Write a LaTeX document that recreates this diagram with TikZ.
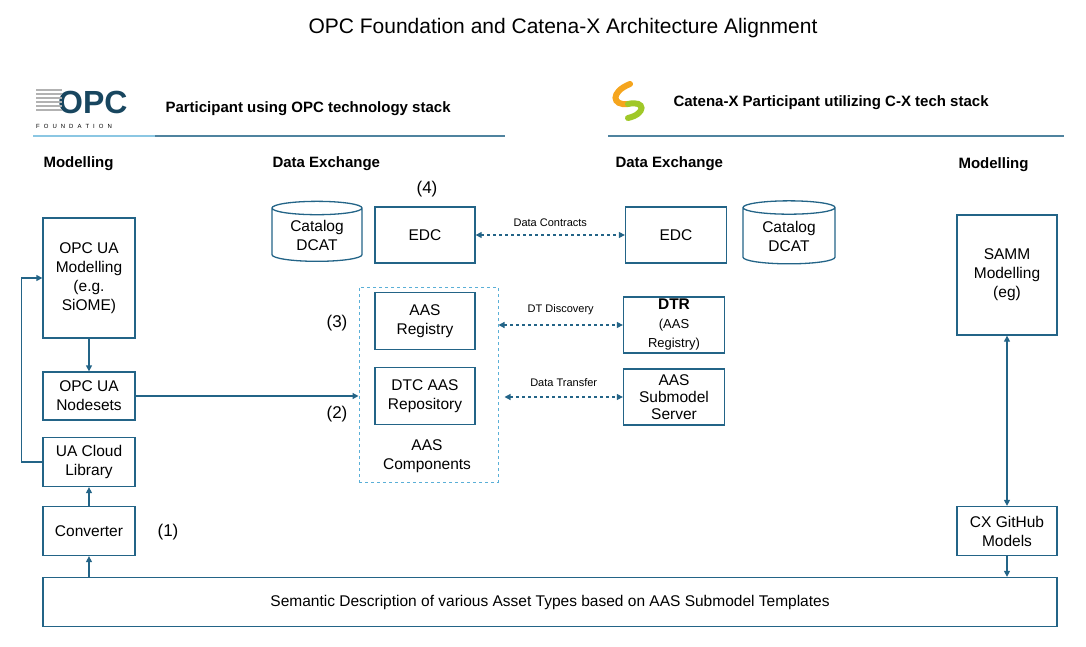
\documentclass[tikz,border=0pt]{standalone}
\usepackage{fontspec}
\setmainfont{Liberation Sans}
\usetikzlibrary{shapes.geometric,arrows.meta}
\definecolor{bl}{RGB}{35,100,135}
\definecolor{lb}{RGB}{90,175,215}
\definecolor{cxo}{RGB}{245,165,30}
\definecolor{cxg}{RGB}{160,200,40}
\begin{document}
\begin{tikzpicture}[x=1pt,y=-1pt,
  box/.style={draw=bl,line width=1.3pt,align=center,inner sep=0pt,font=\fontsize{15.5}{19}\selectfont},
  db/.style={draw=bl,line width=1.3pt,cylinder,shape border rotate=90,aspect=0.25,align=center,font=\fontsize{15.5}{19}\selectfont,minimum width=90pt,minimum height=60pt,inner sep=0pt},
  arr/.style={draw=bl,line width=1.3pt,-{Triangle[length=6pt,width=6pt]}},
  darr/.style={draw=bl,line width=1.2pt,dashed,{Triangle[length=6pt,width=6pt]}-{Triangle[length=6pt,width=6pt]}},
  head/.style={font=\bfseries\fontsize{15}{18}\selectfont,anchor=west},
  lab/.style={font=\fontsize{11}{13}\selectfont},
  num/.style={font=\fontsize{17}{20}\selectfont}]
\useasboundingbox (0,0) rectangle (1086,647);
\node[font=\fontsize{21}{25}\selectfont] (title) at (563,28) {OPC Foundation and Catena-X Architecture Alignment};
% OPC logo
\node[font=\bfseries\fontsize{32}{32}\selectfont,text=bl!70!black,anchor=west,inner sep=0pt] (opc) at (58,102) {OPC};
\foreach \i in {0,...,5}{\draw[gray!60,line width=1.2pt] (36,90+\i*4) -- (62,90+\i*4);}
\node[font=\fontsize{6}{7}\selectfont,anchor=west,inner sep=0pt] (fnd) at (36,126) {F\,\,\,\,O\,\,\,\,U\,\,\,\,N\,\,\,\,D\,\,\,\,A\,\,\,\,T\,\,\,\,I\,\,\,\,O\,\,\,\,N};
\node[head] (h1) at (162,109) {Participant using OPC technology stack};
\draw[lb!70,line width=1.5pt] (33,136) -- (155,136);
\draw[bl!80,line width=1.5pt] (155,136) -- (505,136);
% CX logo
\draw[cxo,line width=6pt,line cap=round] (630,84) .. controls (610,92) and (612,106) .. (628,104);
\draw[cxg,line width=6pt,line cap=round] (628,104) .. controls (646,100) and (646,114) .. (628,118);
\node[head] (h2) at (670,103) {Catena-X Participant utilizing C-X tech stack};
\draw[bl!80,line width=1.5pt] (608,136) -- (1064,136);
\node[head] (m1) at (40,164) {Modelling};
\node[head] (d1) at (269,164) {Data Exchange};
\node[head] (d2) at (612,164) {Data Exchange};
\node[head] (m2) at (955,165) {Modelling};
% left column
\node[box,minimum width=92pt,minimum height=120pt] (uam) at (89,278) {OPC UA\\Modelling\\(e.g.\\SiOME)};
\node[box,minimum width=92pt,minimum height=48pt] (ns) at (89,396) {OPC UA\\Nodesets};
\node[box,minimum width=92pt,minimum height=49pt] (ucl) at (89,462) {UA Cloud\\Library};
\node[box,minimum width=92pt,minimum height=49pt] (conv) at (89,531) {Converter};
\node[num] (n1) at (168,532) {(1)};
\node[box,minimum width=1014pt,minimum height=49pt] (sem) at (550,602) {Semantic Description of various Asset Types based on AAS Submodel Templates};
% data exchange left
\node[db] (cat1) at (317,235) {Catalog\\DCAT};
\node[box,minimum width=100pt,minimum height=56pt] (edc1) at (425,235) {EDC};
\node[num] (n4) at (427,189) {(4)};
\node[draw=lb,dashed,line width=1pt,minimum width=139pt,minimum height=195pt,inner sep=0pt] (aasc) at (428.5,384.5) {};
\node[box,minimum width=100pt,minimum height=57pt] (reg) at (425,321) {AAS\\Registry};
\node[box,minimum width=100pt,minimum height=57pt] (rep) at (425,396) {DTC AAS\\Repository};
\node[align=center,font=\fontsize{15.5}{19}\selectfont] (aaslab) at (427,456) {AAS\\Components};
\node[num] (n3) at (337,323) {(3)};
\node[num] (n2) at (337,414) {(2)};
% right data exchange
\node[box,minimum width=101pt,minimum height=56pt] (edc2) at (676,235) {EDC};
\node[db,minimum width=92pt,minimum height=63pt] (cat2) at (789,236) {Catalog\\DCAT};
\node[box,minimum width=101pt,minimum height=56pt] (dtr) at (674,325) {\textbf{DTR}\\{\fontsize{13}{15}\selectfont (AAS}\\{\fontsize{13}{15}\selectfont Registry)}};
\node[box,minimum width=101pt,minimum height=56pt,font=\fontsize{15.5}{17}\selectfont] (sms) at (674,397) {AAS\\Submodel\\Server};
\node[box,minimum width=100pt,minimum height=120pt] (samm) at (1007,275) {SAMM\\Modelling\\(eg)};
\node[box,minimum width=100pt,minimum height=49pt] (gh) at (1007,531) {CX GitHub\\Models};
% connectors
\draw[darr] (edc1) -- node[lab,above=4pt] {Data Contracts} (edc2);
\draw[darr] (aasc.east |- dtr) -- node[lab,above=6pt] {DT Discovery} (dtr);
\draw[darr] ([xshift=6pt]aasc.east |- sms) -- node[lab,above=6pt] {Data Transfer} (sms);
\draw[arr] (ns) -- (aasc.west |- ns);
\draw[arr] (uam) -- (ns);
\draw[arr] (conv) -- (ucl);
\draw[arr] (sem.north -| conv) -- (conv);
\draw[arr] (ucl.west) -- ++(-21,0) |- (uam.west);
\draw[draw=bl,line width=1.3pt,{Triangle[length=6pt,width=6pt]}-{Triangle[length=6pt,width=6pt]}] (samm) -- (gh);
\draw[arr] (gh) -- (sem.north -| gh);
\end{tikzpicture}
\end{document}
